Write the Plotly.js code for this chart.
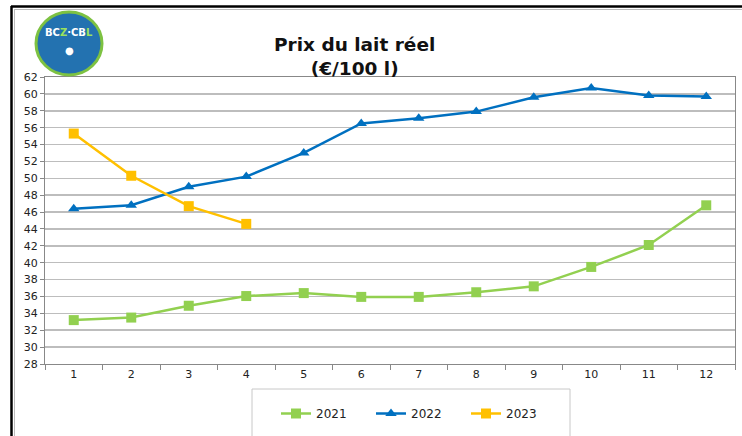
<!DOCTYPE html>
<html>
<head>
<meta charset="utf-8">
<script src="https://cdn.plot.ly/plotly-3.0.1.min.js"></script>
<style>html,body{margin:0;padding:0;background:#fff;}#chart{width:742px;height:436px;}</style>
</head>
<body>
<div id="chart"></div>
<script>
const months = ['1','2','3','4','5','6','7','8','9','10','11','12'];
const months2023 = ['1','2','3','4'];
const prix2021 = [33.2, 33.5, 34.9, 36.05, 36.4, 35.95, 35.95, 36.5, 37.2, 39.5, 42.1, 46.8];
const prix2022 = [46.4, 46.8, 49.0, 50.2, 53.0, 56.5, 57.1, 57.9, 59.6, 60.7, 59.8, 59.7];
const prix2023 = [55.3, 50.3, 46.7, 44.6];
const yTicks = [28,30,32,34,36,38,40,42,44,46,48,50,52,54,56,58,60,62];

const W = 742, H = 436, L = 45, R = 7, T = 77, B = 72;
const pw = W - L - R, ph = H - T - B;
const px = x => (x - L) / pw;
const py = y => (H - B - y) / ph;

const font = 'DejaVu Sans, Verdana, sans-serif';

const traces = [
  {x: months, y: prix2021, name: '2021', type: 'scatter', mode: 'lines+markers',
   line: {color: '#92D050', width: 2.5}, marker: {symbol: 'square', size: 10, color: '#92D050'}},
  {x: months, y: prix2022, name: '2022', type: 'scatter', mode: 'lines+markers',
   line: {color: '#0070C0', width: 2.5}, marker: {symbol: 'triangle-up', size: 10, color: '#0070C0'}},
  {x: months2023, y: prix2023, name: '2023', type: 'scatter', mode: 'lines+markers',
   line: {color: '#FFC000', width: 2.5}, marker: {symbol: 'square', size: 10, color: '#FFC000'}}
];

const layout = {
  width: W, height: H,
  margin: {l: L, r: R, t: T, b: B, pad: 0},
  paper_bgcolor: '#ffffff', plot_bgcolor: '#ffffff',
  font: {family: font, size: 11, color: '#222'},
  showlegend: true,
  title: {text: '<b>Prix du lait réel</b><br><b>(€/100 l)</b>', x: 0.478, xanchor: 'center',
          y: 0.884, yanchor: 'middle', font: {family: font, size: 18.5, color: '#111'}},
  xaxis: {type: 'category', categoryorder: 'array', categoryarray: months,
          range: [-0.5, 11.5], showgrid: false, zeroline: false,
          ticks: 'outside', tickson: 'boundaries', ticklen: 5, tickcolor: '#888',
          showline: true, linecolor: '#888', linewidth: 1, mirror: true,
          tickfont: {family: font, size: 11, color: '#222'}, fixedrange: true},
  yaxis: {range: [28, 62], tickvals: yTicks, ticktext: yTicks.map(String),
          showgrid: true, gridcolor: '#bdbdbd', gridwidth: 1.5, zeroline: false,
          ticks: 'outside', ticklen: 4, tickcolor: '#888',
          showline: true, linecolor: '#888', linewidth: 1, mirror: true,
          tickfont: {family: font, size: 11, color: '#222'}, fixedrange: true},
  legend: {orientation: 'h', x: px(276), xanchor: 'left', y: py(399), yanchor: 'top',
           borderwidth: 0, bgcolor: 'rgba(0,0,0,0)',
           entrywidth: 50, entrywidthmode: 'pixels',
           font: {family: font, size: 12, color: '#222'},
           itemwidth: 30},
  shapes: [
    {type: 'rect', xref: 'paper', yref: 'paper', x0: px(252), x1: px(570), y0: py(389), y1: py(440),
     line: {color: '#c8c8c8', width: 1}, fillcolor: '#fff', layer: 'below'},
    {type: 'line', xref: 'paper', yref: 'paper', x0: px(11), x1: px(742), y0: py(6.5), y1: py(6.5), line: {color: '#000', width: 2.5}},
    {type: 'line', xref: 'paper', yref: 'paper', x0: px(11.5), x1: px(11.5), y0: py(6), y1: py(436), line: {color: '#000', width: 2.5}},
    {type: 'line', xref: 'paper', yref: 'paper', x0: px(14), x1: px(742), y0: py(9.5), y1: py(9.5), line: {color: '#bbb', width: 1}},
    {type: 'line', xref: 'paper', yref: 'paper', x0: px(14.5), x1: px(14.5), y0: py(9), y1: py(436), line: {color: '#bbb', width: 1}},
    {type: 'circle', xref: 'paper', yref: 'paper', x0: px(36), x1: px(102), y0: py(12), y1: py(75),
     line: {color: '#7DC242', width: 3}, fillcolor: '#2372B0'}
  ],
  annotations: [
    {xref: 'paper', yref: 'paper', x: px(69), y: py(33), xanchor: 'center', yanchor: 'middle',
     text: '<b>BC<span style="color:#9be15d">Z</span>·CB<span style="color:#9be15d">L</span></b>', showarrow: false,
     font: {family: font, size: 10, color: '#fff'}},
    {xref: 'paper', yref: 'paper', x: px(69), y: py(50), xanchor: 'center', yanchor: 'middle',
     text: '●', showarrow: false,
     font: {family: font, size: 10, color: '#fff'}}
  ]
};

Plotly.newPlot('chart', traces, layout, {displayModeBar: false, staticPlot: true});
</script>
</body>
</html>
